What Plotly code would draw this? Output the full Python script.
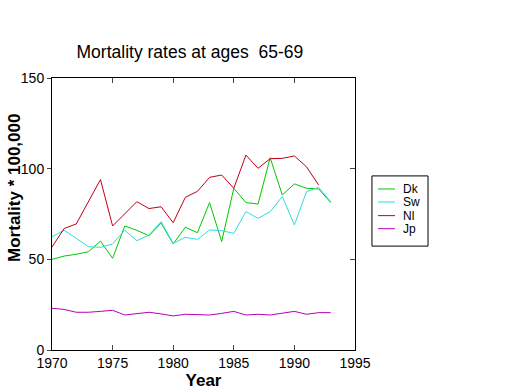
import plotly.graph_objects as go

years = list(range(1970, 1994))
dk = [50, 51.8, 52.8, 54.2, 60, 50.6, 68.4, 66, 63, 70, 58.5, 67.7, 64.7, 81.3, 59.8, 89.2, 81.3, 80.5, 106, 85.5, 91.6, 89.2, 88.8, 81.3]
sw = [62.5, 66, 61.6, 57, 56.6, 58.5, 66, 60.3, 63.4, 70.8, 58.8, 62.1, 61, 66.2, 65.8, 64.3, 76.3, 72.6, 76.3, 84.6, 69, 87.3, 89.7, 81.8]
nl_years = list(range(1970, 1993))
nl = [56.8, 67, 69.5, 81.8, 94, 68.4, 75, 81.8, 78, 79, 70.2, 84.2, 87.5, 95.2, 96.5, 89.2, 107.5, 100.2, 105.5, 105.7, 107, 101, 91]
jp = [23, 22.4, 20.8, 20.8, 21.3, 21.9, 19.3, 20.2, 20.8, 19.9, 18.8, 19.7, 19.7, 19.3, 20.2, 21.3, 19.3, 19.7, 19.3, 20.2, 21.3, 19.7, 20.6, 20.6]

x_ticks = [1970, 1975, 1980, 1985, 1990, 1995]
y_ticks = [0, 50, 100, 150]

font = "Liberation Sans, Arial, sans-serif"
fig = go.Figure()
series = [("Dk", years, dk, "#00c800"), ("Sw", years, sw, "#30dcdc"),
          ("Nl", nl_years, nl, "#c00010"), ("Jp", years, jp, "#b400b4")]
for name, xs, ys, c in series:
    fig.add_trace(go.Scatter(x=xs, y=ys, mode="lines", name=name, showlegend=False,
                             line=dict(color=c, width=1)))

# hand-drawn legend box (paper coordinates)
L = dict(x0=1.056, x1=1.241, y0=0.382, y1=0.640)
shapes = [dict(type="rect", xref="paper", yref="paper", line=dict(color="black", width=1),
               fillcolor="white", **L)]
annotations = []
entry_y = [0.592, 0.544, 0.494, 0.446]
for (name, _, _, c), yy in zip(series, entry_y):
    shapes.append(dict(type="line", xref="paper", yref="paper", x0=1.076, x1=1.132,
                       y0=yy, y1=yy, line=dict(color=c, width=1)))
    annotations.append(dict(text=name, xref="paper", yref="paper", x=1.152, y=yy,
                            xanchor="left", yanchor="middle", showarrow=False,
                            font=dict(size=12, family=font, color="black")))
# y-axis title
annotations.append(dict(text="<b>Mortality * 100,000</b>", xref="paper", yref="paper",
                        x=-0.122, y=0.596, xanchor="center", yanchor="middle",
                        textangle=-90, showarrow=False,
                        font=dict(size=17, family=font, color="black")))

fig.update_layout(
    width=520, height=390,
    margin=dict(l=52, r=165, t=78, b=40),
    paper_bgcolor="white", plot_bgcolor="white",
    font=dict(family=font, color="black", size=14),
    showlegend=False,
    title=dict(text="Mortality rates at ages  65-69", x=0.455, xref="paper", xanchor="center",
               y=0.867, yref="container", yanchor="middle",
               font=dict(family=font, size=17.5, color="black")),
    xaxis=dict(range=[1970, 1995], tickvals=x_ticks, ticks="inside", ticklen=5,
               showline=True, linecolor="black", linewidth=1, mirror="ticks",
               showgrid=False, zeroline=False, automargin=False,
               title=dict(text="<b>Year</b>", font=dict(size=17), standoff=0),
               tickfont=dict(size=14)),
    yaxis=dict(range=[0, 150], tickvals=y_ticks, ticks="outside", ticklen=4,
               showline=True, linecolor="black", linewidth=1, mirror=True,
               showgrid=False, zeroline=False, automargin=False,
               tickfont=dict(size=14)),
    yaxis2=dict(range=[0, 150], tickvals=y_ticks, overlaying="y", side="right",
                ticks="inside", ticklen=5, showticklabels=False, showgrid=False,
                zeroline=False, showline=False, automargin=False),
    shapes=shapes,
    annotations=annotations,
)
fig.add_trace(go.Scatter(x=[1970], y=[0], yaxis="y2", mode="markers",
                         marker=dict(opacity=0), showlegend=False, hoverinfo="skip"))
fig.write_html("out.html", config={"displayModeBar": False},
               post_script="document.body.style.margin='0px';document.body.style.overflow='hidden';")
